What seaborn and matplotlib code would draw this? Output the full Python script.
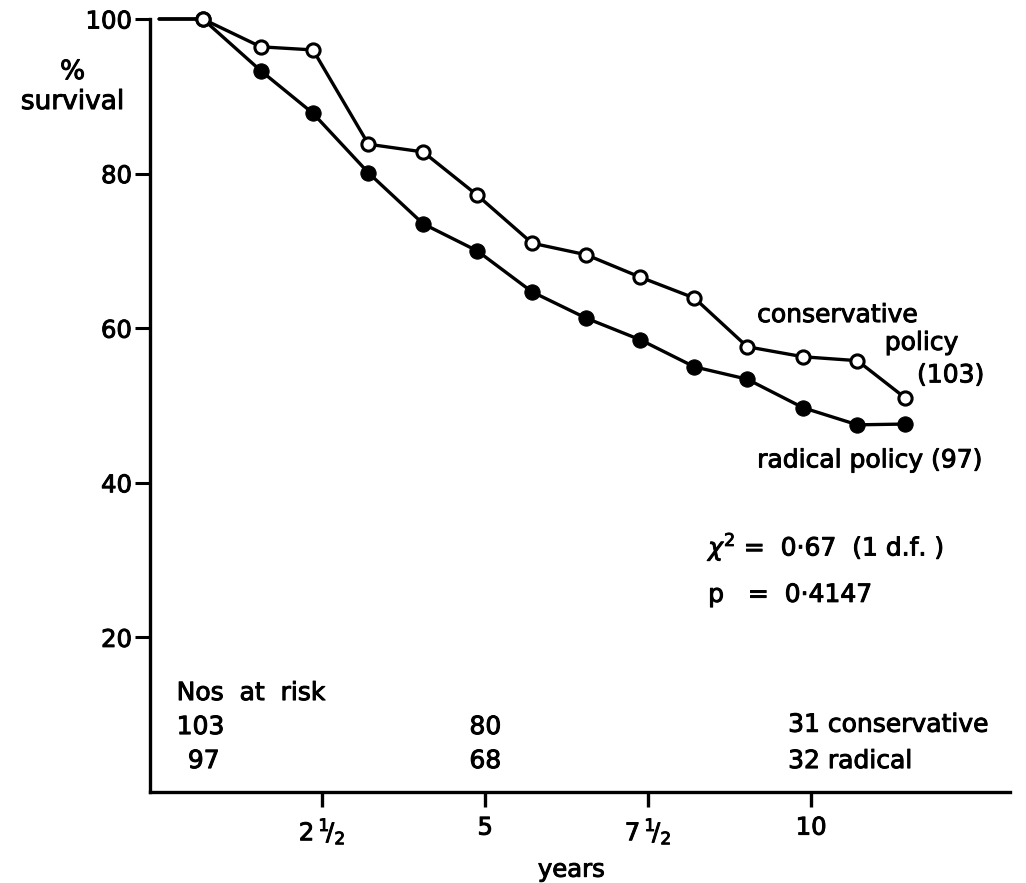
import matplotlib
matplotlib.use("Agg")
import matplotlib.pyplot as plt
import matplotlib.patheffects as pe
import seaborn as sns
import pandas as pd

# survival curves (years, % surviving)
years = [0, 0.67, 1.56, 2.36, 3.21, 4.05, 4.88, 5.72, 6.55, 7.38, 8.21, 9.02, 9.88, 10.71, 11.44]
conservative = [100, 100, 96.4, 96.0, 83.8, 82.8, 77.2, 71.0, 69.5, 66.6, 63.9, 57.6, 56.3, 55.8, 51.0]
radical = [100, 100, 93.3, 87.8, 80.1, 73.5, 70.0, 64.7, 61.3, 58.5, 55.0, 53.4, 49.7, 47.5, 47.6]

# numbers at risk at 0, 5 and 10 years
risk_cons = [103, 80, 31]
risk_rad = [97, 68, 32]

yticks = [20, 40, 60, 80, 100]
xticks = [2.5, 5, 7.5, 10]
xticklabels = [r'$2\,^{1}\!/_{2}$', '5', r'$7\,^{1}\!/_{2}$', '10']

df = pd.DataFrame({'years': years, 'conservative': conservative, 'radical': radical})

sns.set_style("ticks", {"axes.edgecolor": "black", "text.color": "black",
                        "xtick.color": "black", "ytick.color": "black",
                        "axes.labelcolor": "black"})
plt.rcParams['font.family'] = ['DejaVu Sans']

# slightly heavier lettering, like the original
heavy = [pe.withStroke(linewidth=0.7, foreground='black')]

fig = plt.figure(figsize=(10.26, 8.83), dpi=100)
ax = fig.add_axes([150 / 1026, 1 - 792 / 883, 860 / 1026, 773 / 883])

# radical: filled dots
sns.lineplot(data=df, x='years', y='radical', ax=ax, color='black', lw=2.4,
             marker='o', markersize=11, markerfacecolor='black', markeredgecolor='black',
             markevery=slice(1, None), clip_on=False, zorder=3)
# conservative: open dots
sns.lineplot(data=df, x='years', y='conservative', ax=ax, color='black', lw=2.4,
             marker='o', markersize=9.5, markerfacecolor='white', markeredgecolor='black',
             markeredgewidth=2.2, markevery=slice(1, None), clip_on=False, zorder=4)

ax.set_xlim(-0.14, 13.05)
ax.set_ylim(0, 100)
ax.set_yticks(yticks)
ax.set_yticklabels([str(v) for v in yticks])
ax.set_xticks(xticks)
ax.set_xticklabels(xticklabels)

sns.despine(ax=ax)
for s in ['left', 'bottom']:
    ax.spines[s].set_linewidth(2.4)
ax.tick_params(axis='y', direction='out', length=11, width=2.2, pad=2, labelsize=17.5)
ax.tick_params(axis='x', direction='out', length=11, width=2.4, pad=6, labelsize=17.5)
for lab in ax.get_xticklabels() + ax.get_yticklabels():
    lab.set_path_effects(heavy)

ax.set_xlabel('years', fontsize=17.5, path_effects=heavy)
ax.xaxis.set_label_coords(0.49, -0.085)
ax.set_ylabel('%\nsurvival', fontsize=19, rotation=0, ha='center', va='center',
              linespacing=1.2, path_effects=heavy)
ax.yaxis.set_label_coords(-0.09, 0.912)

fs = 18
tr = ax.transAxes
kw = dict(transform=tr, fontsize=fs, va='center', path_effects=heavy)
ax.text(0.706, 0.617, 'conservative', ha='left', **kw)
ax.text(0.940, 0.581, 'policy', ha='right', **kw)
ax.text(0.970, 0.539, '(103)', ha='right', **kw)
ax.text(0.706, 0.429, 'radical policy (97)', ha='left', **kw)

ax.text(0.649, 0.317, r'$\chi^2$ =  0·67  (1 d.f. )', ha='left', **kw)
ax.text(0.649, 0.255, 'p   =  0·4147', ha='left', **kw)

ax.text(0.031, 0.128, 'Nos  at  risk', ha='left', **kw)
ax.text(0.031, 0.084, str(risk_cons[0]), ha='left', **kw)
ax.text(0.044, 0.040, str(risk_rad[0]), ha='left', **kw)
ax.text(0.390, 0.084, str(risk_cons[1]), ha='center', **kw)
ax.text(0.390, 0.040, str(risk_rad[1]), ha='center', **kw)
ax.text(0.742, 0.087, f'{risk_cons[2]} conservative', ha='left', **kw)
ax.text(0.742, 0.040, f'{risk_rad[2]} radical', ha='left', **kw)

fig.savefig('out.png', dpi=100)
